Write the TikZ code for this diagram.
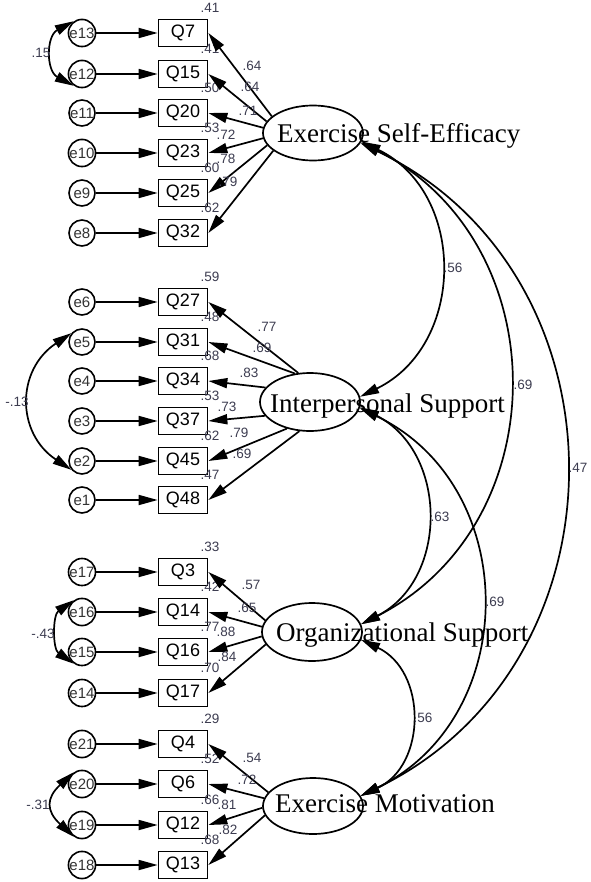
\documentclass[tikz,border=0pt]{standalone}
\usepackage{fontspec}
\setmainfont{Liberation Serif}
\setsansfont{Liberation Sans}
\usetikzlibrary{arrows.meta,shapes.geometric}
\definecolor{numcol}{RGB}{60,60,80}
\begin{document}
\begin{tikzpicture}[x=1pt,y=-1pt,
  obs/.style={draw,line width=1.7pt,minimum width=49pt,minimum height=27pt,inner sep=0pt,font=\sffamily\fontsize{18}{18}\selectfont},
  err/.style={draw,circle,line width=1.6pt,minimum size=26pt,inner sep=0pt,text=black!80,font=\sffamily\fontsize{15}{15}\selectfont},
  lat/.style={draw,ellipse,line width=1.7pt,minimum width=100pt,minimum height=56pt,inner sep=0pt},
  lbl/.style={anchor=base west,inner sep=0pt,font=\fontsize{27}{30}\selectfont},
  num/.style={inner sep=0pt,text=numcol,font=\sffamily\fontsize{13.5}{13.5}\selectfont},
  arr/.style={line width=1.7pt,-{Triangle[length=19pt,width=10pt]}},
  cov/.style={line width=1.7pt,{Triangle[length=19pt,width=10pt]}-{Triangle[length=19pt,width=10pt]}}]
\useasboundingbox[fill=white] (0,0) rectangle (590,882);

% latent variables
\node[lat,minimum height=55pt] (ese) at (313,133) {};
\node[lat,minimum height=58pt] (is) at (310,402) {};
\node[lat,minimum height=58pt] (os) at (312,632) {};
\node[lat,minimum height=56pt] (em) at (313,806) {};

% indicators with error terms and R^2
\foreach \q/\e/\y/\r in {Q7/e13/33/.41,Q15/e12/74/.41,Q20/e11/113/.50,Q23/e10/153/.53,Q25/e9/193/.60,Q32/e8/233/.62,
  Q27/e6/302/.59,Q31/e5/342/.48,Q34/e4/381/.68,Q37/e3/421/.53,Q45/e2/461/.62,Q48/e1/500/.47,
  Q3/e17/572/.33,Q14/e16/612/.42,Q16/e15/652/.77,Q17/e14/693/.70,
  Q4/e21/744/.29,Q6/e20/784/.52,Q12/e19/825/.66,Q13/e18/865/.68}{
  \node[num] at (210,\y-25) {\r};
  \node[err] (\e) at (82,\y) {\e};
  \node[obs] (\q) at (183,\y) {\q};
  \draw[arr] (\e) -- (\q);
}

% loadings
\foreach \q/\a/\lx/\ly/\l in {Q7/158/252/66/.64,Q15/166/250/87/.64,Q20/174/248/111/.71,Q23/186/226/135/.72,Q25/195/226/159/.78,Q32/204/228/182/.79}{
  \node[num] at (\lx,\ly) {\l};
  \draw[arr] (ese.\a) -- (\q.east);
}
\foreach \q/\a/\lx/\ly/\l in {Q27/112/267/327/.77,Q31/118/262/348/.69,Q34/162/249/373/.83,Q37/197/227/407/.73,Q45/229/239/433/.79,Q48/250/242/454/.69}{
  \node[num] at (\lx,\ly) {\l};
  \draw[arr] (is.\a) -- (\q.east);
}
\foreach \q/\a/\lx/\ly/\l in {Q3/166/251/585/.57,Q14/174/247/608/.65,Q16/185/226/632/.88,Q17/195/227/657/.84}{
  \node[num] at (\lx,\ly) {\l};
  \draw[arr] (os.\a) -- (\q.east);
}
\foreach \q/\a/\lx/\ly/\l in {Q4/163/252/758/.54,Q6/171/247/780/.72,Q12/182/227/805/.81,Q13/191/228/830/.82}{
  \node[num] at (\lx,\ly) {\l};
  \draw[arr] (em.\a) -- (\q.east);
}

% latent labels
\node[lbl] (eset) at (277,143) {Exercise Self-Efficacy};
\node[lbl] (ist) at (270,412) {Interpersonal Support};
\node[lbl] (ost) at (276,641) {Organizational Support};
\node[lbl] (emt) at (275,812) {Exercise Motivation};

% error covariances
\draw[cov] (e13.125) .. controls (46,36) and (46,71) .. (e12.235);
\node[num] at (41,53) {.15};
\draw[cov] (e5.140) .. controls (16,370) and (16,433) .. (e2.220);
\node[num] at (17,402) {-.13};
\draw[cov] (e16.125) .. controls (52.5,615) and (52.5,649) .. (e15.235);
\node[num] at (43,634) {-.43};
\draw[cov] (e20.125) .. controls (46,798) and (46,811) .. (e19.235);
\node[num] at (38,805) {-.31};

% latent covariances
\draw[cov] (ese.-10) .. controls (467,193) and (466,345) .. (is.6);
\node[num] at (453,268) {.56};
\draw[cov] (ese.-11) .. controls (558,242) and (558,524) .. (os.9);
\node[num] at (523,385) {.69};
\draw[cov] (ese.-12) .. controls (633,274) and (633,664) .. (em.12);
\node[num] at (578,468) {.47};
\draw[cov] (is.-6) .. controls (448,452) and (449,579) .. (os.9);
\node[num] at (440,517) {.63};
\draw[cov] (is.-7) .. controls (522,486) and (522,717) .. (em.12);
\node[num] at (495,602) {.69};
\draw[cov] (os.-9) .. controls (427,671) and (427,765) .. (em.12);
\node[num] at (423,718) {.56};
\end{tikzpicture}
\end{document}
